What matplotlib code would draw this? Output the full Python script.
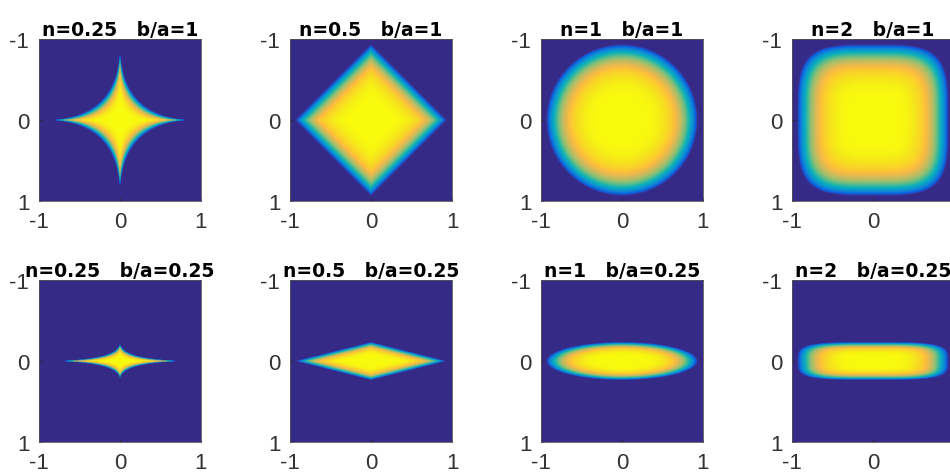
import numpy as np
import matplotlib
matplotlib.use("Agg")
import matplotlib.pyplot as plt
from matplotlib.colors import LinearSegmentedColormap

# superellipse exponents (columns) and axis ratios (rows)
n_values = [0.25, 0.5, 1, 2]
ratios = [1, 0.25]
n_labels = ["0.25", "0.5", "1", "2"]
ratio_labels = ["1", "0.25"]

# radial profile: value = 1 - (rho/R)^k, clipped at 0
edge_radius = 0.94
edge_power = 5
ticks = [-1, 0, 1]

# parula, sampled every 4th entry of the 64-colour table
parula_rgb = [
    (0.2081, 0.1663, 0.5292), (0.1959, 0.2645, 0.7279), (0.0117, 0.3875, 0.8820),
    (0.0498, 0.4586, 0.8641), (0.0793, 0.5200, 0.8312), (0.0343, 0.5966, 0.8199),
    (0.0228, 0.6535, 0.7768), (0.0843, 0.6928, 0.7062), (0.2178, 0.7250, 0.6193),
    (0.3953, 0.7459, 0.5244), (0.5709, 0.7485, 0.4494), (0.7184, 0.7411, 0.3905),
    (0.8507, 0.7299, 0.3360), (0.9739, 0.7314, 0.2666), (0.9880, 0.8066, 0.1794),
    (0.9589, 0.8949, 0.1132), (0.9763, 0.9831, 0.0538),
]
parula_pos = [i * 4 / 63 for i in range(16)] + [1.0]
parula = LinearSegmentedColormap.from_list("parula", list(zip(parula_pos, parula_rgb)))

N = 200
x = np.linspace(-1, 1, N)
X, Y = np.meshgrid(x, x)

fig = plt.figure(figsize=(9.5, 4.77), dpi=100)
W, H = 950, 477
col_left = [39, 290, 541, 792]
row_top = [40, 281]
size = 162

for r, ratio in enumerate(ratios):
    for c, n in enumerate(n_values):
        ax = fig.add_axes([col_left[c] / W, (H - row_top[r] - size) / H, size / W, size / H])
        p = 2 * n
        rho = (np.abs(X) ** p + np.abs(Y / ratio) ** p) ** (1 / p)
        img = np.clip(1 - (rho / edge_radius) ** edge_power, 0, 1)
        ax.imshow(img, cmap=parula, vmin=0, vmax=1, extent=[-1, 1, 1, -1],
                  origin="upper", interpolation="bilinear", aspect="auto")
        ax.set_xlim(-1, 1)
        ax.set_ylim(1, -1)
        ax.set_xticks(ticks)
        ax.set_yticks(ticks)
        ax.set_xticklabels([str(t) for t in ticks], family="Liberation Sans")
        ax.set_yticklabels([str(t) for t in ticks], family="Liberation Sans")
        ax.tick_params(direction="in", length=2, width=0.5, color="#262626",
                       labelsize=16, labelcolor="#333333", pad=7)
        for s in ax.spines.values():
            s.set_linewidth(0.6)
            s.set_color("#555555")
        ax.set_title("n=%s   b/a=%s" % (n_labels[c], ratio_labels[r]),
                     fontsize=13.5, fontweight="bold", pad=3)

fig.savefig("out.png", dpi=100)
